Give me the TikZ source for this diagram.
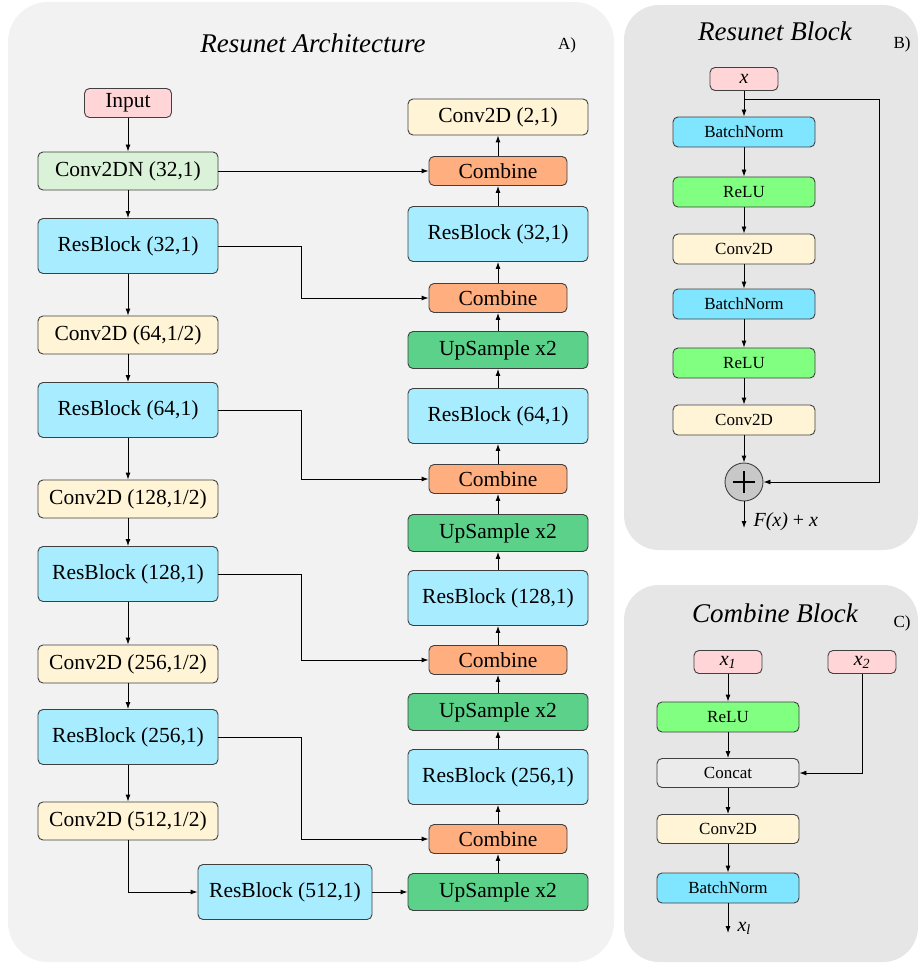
\documentclass[tikz,border=0pt]{standalone}
\usepackage{fontspec}
\setmainfont{Liberation Serif}
\usetikzlibrary{arrows.meta}
\definecolor{panelA}{HTML}{F2F2F2}
\definecolor{panelB}{HTML}{E6E6E6}
\definecolor{pinkc}{HTML}{FFD5D8}
\definecolor{lgreen}{HTML}{DAF2D8}
\definecolor{lcyan}{HTML}{A8ECFF}
\definecolor{cream}{HTML}{FFF4D6}
\definecolor{orangec}{HTML}{FFAF7F}
\definecolor{upgreen}{HTML}{5CD18A}
\definecolor{cyanb}{HTML}{80E5FF}
\definecolor{greenb}{HTML}{80FF80}
\definecolor{concatc}{HTML}{EBEBEB}
\definecolor{plusc}{HTML}{C8C8C8}
\definecolor{edgec}{HTML}{404040}
\begin{document}
\begin{tikzpicture}[x=1pt,y=-1pt,
  box/.style={draw=edgec, line width=0.9pt, rounded corners=5pt, inner sep=0pt, align=center},
  big/.style={box, font=\fontsize{21.5}{25}\selectfont, minimum width=180pt},
  small/.style={box, font=\fontsize{17}{20}\selectfont, minimum width=142pt, minimum height=30pt},
  tiny/.style={box, font=\fontsize{20}{24}\selectfont\itshape, minimum width=68pt, minimum height=23pt, fill=pinkc},
  convbox/.style={big, fill=cream, minimum height=38pt},
  resbox/.style={big, fill=lcyan, minimum height=55pt},
  combbox/.style={big, fill=orangec, minimum width=138pt, minimum height=29pt},
  upbox/.style={big, fill=upgreen, minimum height=37pt},
  arr/.style={draw=black, line width=0.9pt, -{Latex[length=7pt,width=5pt]}},
  ttl/.style={font=\fontsize{27}{32}\selectfont\itshape},
  lbl/.style={font=\fontsize{17}{20}\selectfont}
]
\useasboundingbox (0,0) rectangle (919,965);
% panels
\fill[panelA, rounded corners=40pt] (8,2) rectangle (614,962);
\fill[panelB, rounded corners=35pt] (624,5) rectangle (918,550);
\fill[panelB, rounded corners=35pt] (624,585) rectangle (918,962);

% titles
\node[ttl] (tA) at (313,43) {Resunet Architecture};
\node[lbl] (lA) at (567,45) {A)};
\node[ttl] (tB) at (775,31) {Resunet Block};
\node[lbl] (lB) at (902,44) {B)};
\node[ttl] (tC) at (775,613) {Combine Block};
\node[lbl] (lC) at (902,623) {C)};

% left column
\node[big, fill=pinkc, minimum width=87pt, minimum height=29pt] (in) at (128,103) {Input};
\node[big, fill=lgreen, minimum height=38pt] (c0) at (128,171) {Conv2DN (32,1)};
\node[resbox] (r1) at (128,246) {ResBlock (32,1)};
\node[convbox] (d2) at (128,335) {Conv2D (64,1/2)};
\node[resbox] (r2) at (128,410) {ResBlock (64,1)};
\node[convbox] (d3) at (128,499) {Conv2D (128,1/2)};
\node[resbox] (r3) at (128,574) {ResBlock (128,1)};
\node[convbox] (d4) at (128,664) {Conv2D (256,1/2)};
\node[resbox] (r4) at (128,737) {ResBlock (256,1)};
\node[convbox] (d5) at (128,821) {Conv2D (512,1/2)};
\node[resbox, minimum width=174pt] (r5) at (285,892) {ResBlock (512,1)};

% right column
\node[convbox, minimum height=36pt] (out) at (498,117) {Conv2D (2,1)};
\node[combbox] (cb1) at (498,171) {Combine};
\node[resbox] (ur1) at (498,234) {ResBlock (32,1)};
\node[combbox] (cb2) at (498,298) {Combine};
\node[upbox] (up2) at (498,350) {UpSample x2};
\node[resbox] (ur2) at (498,416) {ResBlock (64,1)};
\node[combbox] (cb3) at (498,479) {Combine};
\node[upbox] (up3) at (498,533) {UpSample x2};
\node[resbox] (ur3) at (498,598) {ResBlock (128,1)};
\node[combbox] (cb4) at (498,660) {Combine};
\node[upbox] (up4) at (498,712) {UpSample x2};
\node[resbox] (ur4) at (498,777) {ResBlock (256,1)};
\node[combbox] (cb5) at (498,839) {Combine};
\node[upbox] (up5) at (498,892) {UpSample x2};

% encoder arrows
\draw[arr] (in) -- (c0);
\draw[arr] (c0) -- (r1);
\draw[arr] (r1) -- (d2);
\draw[arr] (d2) -- (r2);
\draw[arr] (r2) -- (d3);
\draw[arr] (d3) -- (r3);
\draw[arr] (r3) -- (d4);
\draw[arr] (d4) -- (r4);
\draw[arr] (r4) -- (d5);
\draw[arr] (d5.south) |- (r5.west);
\draw[arr] (r5) -- (up5);
% decoder arrows
\draw[arr] (up5) -- (cb5);
\draw[arr] (cb5) -- (ur4);
\draw[arr] (ur4) -- (up4);
\draw[arr] (up4) -- (cb4);
\draw[arr] (cb4) -- (ur3);
\draw[arr] (ur3) -- (up3);
\draw[arr] (up3) -- (cb3);
\draw[arr] (cb3) -- (ur2);
\draw[arr] (ur2) -- (up2);
\draw[arr] (up2) -- (cb2);
\draw[arr] (cb2) -- (ur1);
\draw[arr] (ur1) -- (cb1);
\draw[arr] (cb1) -- (out);
% skips
\draw[arr] (c0.east) -- (cb1.west);
\draw[arr] (r1.east) -- ++(83,0) |- (cb2.west);
\draw[arr] (r2.east) -- ++(83,0) |- (cb3.west);
\draw[arr] (r3.east) -- ++(83,0) |- (cb4.west);
\draw[arr] (r4.east) -- ++(83,0) |- (cb5.west);

% panel B
\node[tiny] (bx) at (744,79) {x};
\node[small, fill=cyanb] (bn1) at (744,132) {BatchNorm};
\node[small, fill=greenb] (rl1) at (744,192) {ReLU};
\node[small, fill=cream] (cv1) at (744,249) {Conv2D};
\node[small, fill=cyanb] (bn2) at (744,304) {BatchNorm};
\node[small, fill=greenb] (rl2) at (744,363) {ReLU};
\node[small, fill=cream] (cv2) at (744,420) {Conv2D};
\node[circle, draw=edgec, line width=0.9pt, fill=plusc, minimum size=38pt, inner sep=0pt] (plus) at (744,482) {};
\draw[line width=2.6pt] ([xshift=-11pt]plus.center) -- ([xshift=11pt]plus.center);
\draw[line width=2.6pt] ([yshift=-11pt]plus.center) -- ([yshift=11pt]plus.center);
\coordinate (bsplit) at (744,99);
\coordinate (bturn) at (879,99);
\coordinate (bend) at (744,528);
\draw[arr] (bx) -- (bn1);
\draw[arr] (bn1) -- (rl1);
\draw[arr] (rl1) -- (cv1);
\draw[arr] (cv1) -- (bn2);
\draw[arr] (bn2) -- (rl2);
\draw[arr] (rl2) -- (cv2);
\draw[arr] (cv2) -- (plus);
\draw[arr] (bsplit) -- (bturn) |- (plus.east);
\draw[arr] (plus) -- (bend);
\node[anchor=west, font=\fontsize{20}{24}\selectfont] (fx) at (750,522) {\textit{F(x)} + \textit{x}};

% panel C
\node[tiny] (cx1) at (728,662) {x\textsubscript{1}};
\node[tiny] (cx2) at (862,662) {x\textsubscript{2}};
\node[small, fill=greenb] (crl) at (728,717) {ReLU};
\node[small, fill=concatc, minimum height=29pt] (ccat) at (728,773) {Concat};
\node[small, fill=cream, minimum height=29pt] (ccv) at (728,829) {Conv2D};
\node[small, fill=cyanb] (cbn) at (728,888) {BatchNorm};
\coordinate (cend) at (728,933);
\draw[arr] (cx1) -- (crl);
\draw[arr] (crl) -- (ccat);
\draw[arr] (ccat) -- (ccv);
\draw[arr] (ccv) -- (cbn);
\draw[arr] (cbn) -- (cend);
\draw[arr] (cx2.south) |- (ccat.east);
\node[anchor=west, font=\fontsize{20}{24}\selectfont\itshape] (xl) at (734,928) {x\textsubscript{l}};
\end{tikzpicture}
\end{document}
